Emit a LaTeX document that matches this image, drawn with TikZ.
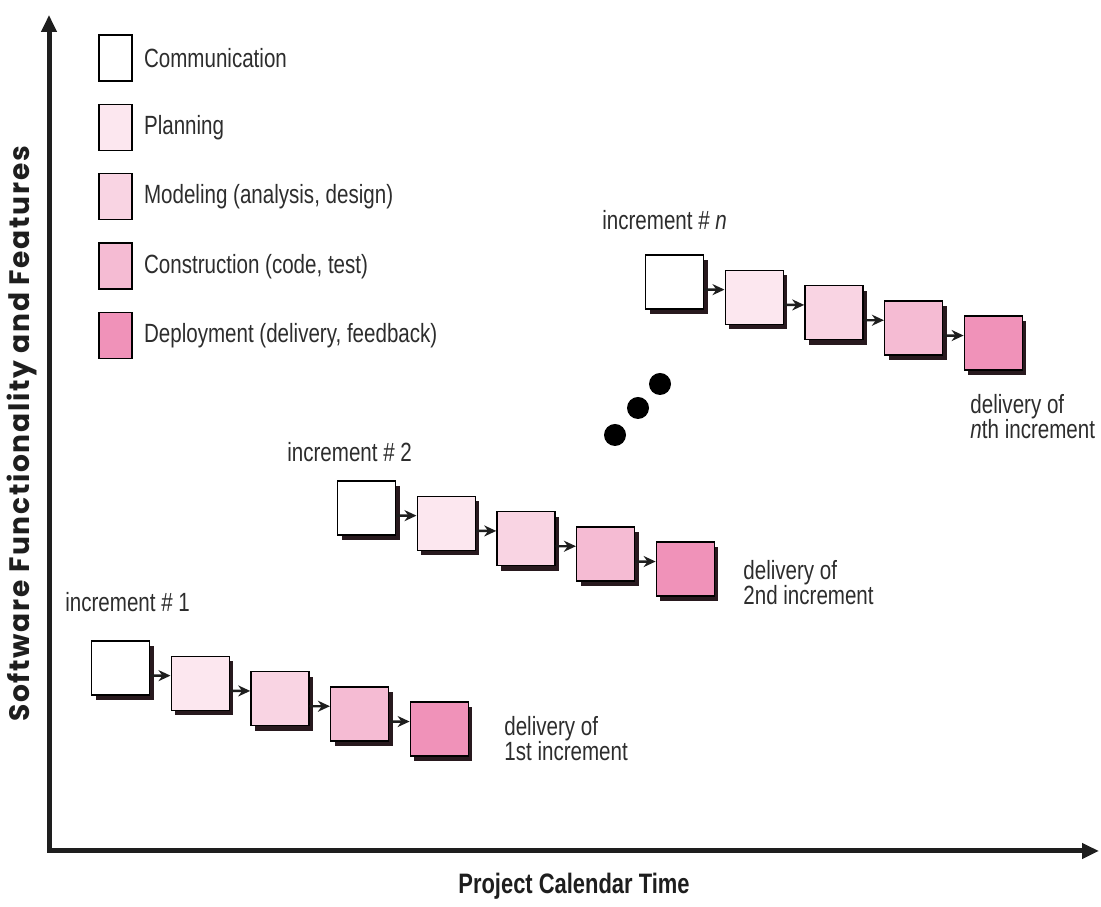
\documentclass[tikz,border=0pt]{standalone}
\usepackage{fontspec}
\setmainfont{Liberation Sans}[FakeStretch=0.78]
\newfontfamily\ylabelfont{Poppins}[LetterSpace=6]
\usepackage{tikz}
\usetikzlibrary{shapes.geometric, arrows.meta, calc, positioning, shadows}
\definecolor{planC}{RGB}{252,231,239}
\definecolor{modelC}{RGB}{249,212,227}
\definecolor{consC}{RGB}{245,187,211}
\definecolor{deployC}{RGB}{240,146,185}
\definecolor{shadowC}{RGB}{40,25,30}
\definecolor{textC}{RGB}{45,45,45}
\definecolor{axisC}{RGB}{30,30,30}
\tikzstyle{legendbox} = [rectangle, draw=black, line width=0.8pt, minimum width=0.66cm, minimum height=0.92cm, inner sep=0pt]
\tikzstyle{block} = [rectangle, draw=black, line width=0.8pt, minimum width=1.16cm, minimum height=1.08cm, inner sep=0pt, drop shadow={shadow xshift=0.08cm, shadow yshift=-0.1cm, fill=shadowC, opacity=1}]
\tikzstyle{arrow} = [line width=1.4pt, draw=axisC, -{Stealth[length=0.24cm, width=0.22cm]}]
\tikzstyle{textlabel} = [font=\fontsize{15pt}{14.5pt}\selectfont, inner sep=0pt, text=textC]
\tikzstyle{axis} = [line width=0.1cm, draw=axisC, line join=miter, {Triangle[length=0.34cm, width=0.3cm]}-{Triangle[length=0.34cm, width=0.3cm]}]
\tikzstyle{dot} = [circle, fill=black, minimum size=0.44cm, inner sep=0pt]

\begin{document}
\begin{tikzpicture}
	\path [fill=white, use as bounding box] (0,0) rectangle (22.02,18.14);
	% axes
	\coordinate (Ytip) at (0.98,17.84);
	\coordinate (Xtip) at (21.98,1.12);
	\draw [axis] (Ytip) |- (Xtip);
	\node (Ylabel) [text=axisC, rotate=90, font=\ylabelfont\bfseries\fontsize{16pt}{18pt}\selectfont] at (0.44,9.46) {Software Functionality and Features};
	\node (Xlabel) [text=axisC, font=\bfseries\fontsize{16pt}{18pt}\selectfont] at (11.48,0.42) {Project Calendar Time};
	% legend
	\node (L1) [legendbox, fill=white] at (2.31,16.98) {};
	\node (L2) [legendbox, fill=planC, below=0.44cm of L1] {};
	\node (L3) [legendbox, fill=modelC, below=0.44cm of L2] {};
	\node (L4) [legendbox, fill=consC, below=0.44cm of L3] {};
	\node (L5) [legendbox, fill=deployC, below=0.44cm of L4] {};
	\node (T1) [textlabel, right=0.22cm of L1] {Communication};
	\node (T2) [textlabel, right=0.22cm of L2] {Planning};
	\node (T3) [textlabel, right=0.22cm of L3] {Modeling (analysis, design)};
	\node (T4) [textlabel, right=0.22cm of L4] {Construction (code, test)};
	\node (T5) [textlabel, right=0.22cm of L5] {Deployment (delivery, feedback)};
	% increment 1
	\node (I1) [textlabel, anchor=west] at (1.30,6.10) {increment \# 1};
	\node (A1) [block, fill=white] at (2.41,4.78) {};
	\node (A2) [block, fill=planC, right=0.406cm of A1, yshift=-0.306cm] {};
	\node (A3) [block, fill=modelC, right=0.406cm of A2, yshift=-0.306cm] {};
	\node (A4) [block, fill=consC, right=0.406cm of A3, yshift=-0.306cm] {};
	\node (A5) [block, fill=deployC, right=0.406cm of A4, yshift=-0.306cm] {};
	\draw [arrow] ([yshift=-0.153cm]A1.east) -- ([yshift=0.153cm]A2.west);
	\draw [arrow] ([yshift=-0.153cm]A2.east) -- ([yshift=0.153cm]A3.west);
	\draw [arrow] ([yshift=-0.153cm]A3.east) -- ([yshift=0.153cm]A4.west);
	\draw [arrow] ([yshift=-0.153cm]A4.east) -- ([yshift=0.153cm]A5.west);
	\node (D1) [textlabel, align=left, right=0.7cm of A5, yshift=-0.19cm] {delivery of\\1st increment};
	% increment 2
	\node (I2) [textlabel, anchor=west] at (5.74,9.10) {increment \# 2};
	\node (B1) [block, fill=white] at (7.33,7.98) {};
	\node (B2) [block, fill=planC, right=0.406cm of B1, yshift=-0.306cm] {};
	\node (B3) [block, fill=modelC, right=0.406cm of B2, yshift=-0.306cm] {};
	\node (B4) [block, fill=consC, right=0.406cm of B3, yshift=-0.306cm] {};
	\node (B5) [block, fill=deployC, right=0.406cm of B4, yshift=-0.306cm] {};
	\draw [arrow] ([yshift=-0.153cm]B1.east) -- ([yshift=0.153cm]B2.west);
	\draw [arrow] ([yshift=-0.153cm]B2.east) -- ([yshift=0.153cm]B3.west);
	\draw [arrow] ([yshift=-0.153cm]B3.east) -- ([yshift=0.153cm]B4.west);
	\draw [arrow] ([yshift=-0.153cm]B4.east) -- ([yshift=0.153cm]B5.west);
	\node (D2) [textlabel, align=left, right=0.56cm of B5, yshift=-0.27cm] {delivery of\\2nd increment};
	% dots
	\node (dot1) [dot] at (12.30,9.44) {};
	\node (dot2) [dot] at (12.76,9.98) {};
	\node (dot3) [dot] at (13.20,10.46) {};
	% increment n
	\node (In) [textlabel, anchor=west] at (12.04,13.74) {increment \# \textit{n}};
	\node (N1) [block, fill=white] at (13.49,12.50) {};
	\node (N2) [block, fill=planC, right=0.406cm of N1, yshift=-0.306cm] {};
	\node (N3) [block, fill=modelC, right=0.406cm of N2, yshift=-0.306cm] {};
	\node (N4) [block, fill=consC, right=0.406cm of N3, yshift=-0.306cm] {};
	\node (N5) [block, fill=deployC, right=0.406cm of N4, yshift=-0.306cm] {};
	\draw [arrow] ([yshift=-0.153cm]N1.east) -- ([yshift=0.153cm]N2.west);
	\draw [arrow] ([yshift=-0.153cm]N2.east) -- ([yshift=0.153cm]N3.west);
	\draw [arrow] ([yshift=-0.153cm]N3.east) -- ([yshift=0.153cm]N4.west);
	\draw [arrow] ([yshift=-0.153cm]N4.east) -- ([yshift=0.153cm]N5.west);
	\node (Dn) [textlabel, align=left, anchor=north west] at ([xshift=0.13cm, yshift=-0.46cm]N5.south west) {delivery of\\\textit{n}th increment};
\end{tikzpicture}
\end{document}
